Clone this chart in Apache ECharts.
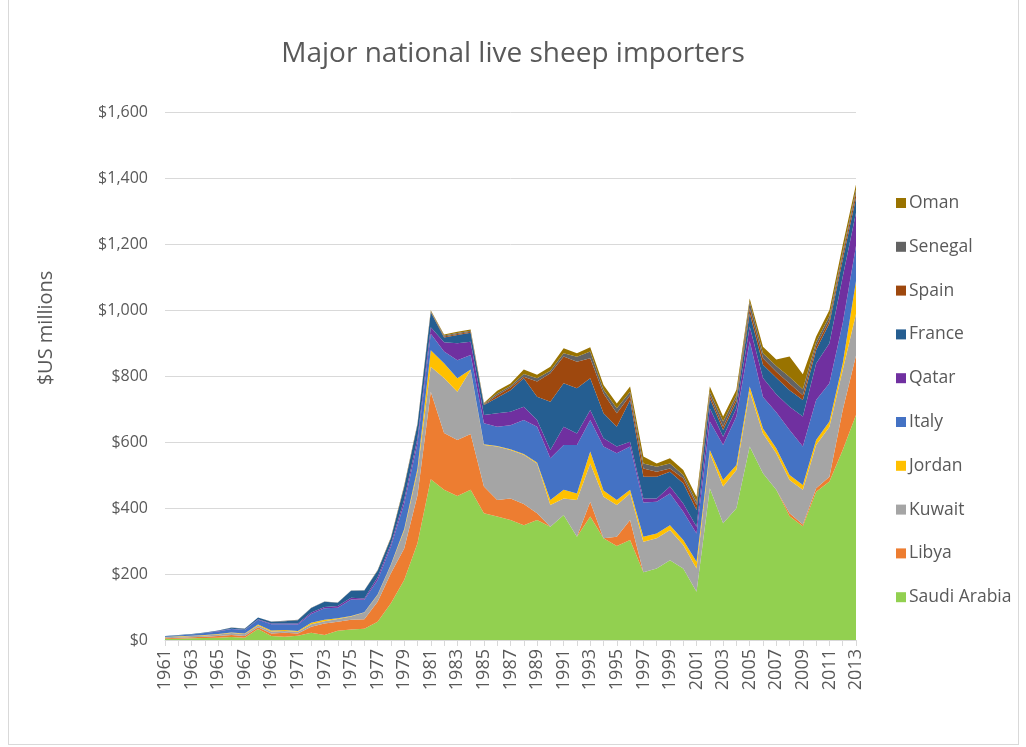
<!DOCTYPE html>
<html>
<head>
<meta charset="utf-8">
<script src="https://cdn.jsdelivr.net/npm/echarts@6/dist/echarts.min.js"></script>
<style>
  html, body { margin: 0; padding: 0; background: #ffffff; }
  #frame { position: absolute; left: 8px; top: 0; width: 1011px; height: 745px; border: 1px solid #d9d9d9; border-top: none; box-sizing: border-box; }
  #chart { position: absolute; left: 0; top: 0; width: 1026px; height: 747px; }
</style>
</head>
<body>
<div id="frame"></div>
<div id="chart"></div>
<script>
// Years on the category axis
const years = [];
for (let y = 1961; y <= 2013; y++) years.push(String(y));

// Live sheep imports by country, $US millions (stacked bottom to top)
const saudiArabia = [3,4,5,6,7,9,7,33,12,10,13,22,15,28,32,34,55,111,182,293,487,455,436,455,384,374,364,348,364,343,379,313,374,308,285,303,205,217,242,217,146,460,354,399,586,505,455,375,345,449,480,576,682];
const libya       = [2,3,3,4,5,6,5,6,8,12,7,18,35,27,29,29,61,91,95,146,265,172,170,169,81,50,65,64,20,0,0,0,45,0,28,61,0,0,0,0,0,0,0,0,0,0,0,9,5,11,15,121,180];
const kuwait      = [3,3,4,4,5,6,6,5,6,5,5,8,7,9,10,20,20,25,55,71,76,167,146,194,126,162,147,149,151,66,50,111,116,126,96,80,93,91,91,71,71,106,111,116,167,121,111,101,105,131,151,121,126];
const jordan      = [1,1,1,1,1,2,2,3,3,3,2,4,4,2,2,1,2,2,4,10,50,45,41,2,2,2,2,3,3,15,26,20,36,19,15,11,15,15,15,15,20,10,20,15,15,15,15,15,15,15,16,20,100];
const italy       = [2,3,4,6,8,10,10,14,19,18,20,27,35,32,50,38,44,54,78,76,50,35,55,44,64,58,73,103,108,127,136,147,96,133,142,131,104,96,96,86,86,86,106,147,137,95,109,136,116,121,116,122,107];
const qatar       = [0,0,0,0,1,1,1,2,2,2,3,4,4,5,5,4,8,8,12,15,20,28,51,40,25,41,41,40,21,25,55,35,30,25,20,15,12,10,21,25,20,40,25,25,45,58,55,71,91,111,121,141,100];
const france      = [1,1,1,2,2,3,3,5,5,7,10,14,16,10,21,24,20,17,38,41,45,15,25,27,30,47,65,86,70,146,132,137,96,76,60,126,66,66,45,61,51,30,20,20,40,40,50,50,50,41,61,51,45];
const spain       = [0,0,0,0,0,0,0,0,0,0,0,0,0,0,0,0,0,1,1,1,2,3,3,3,2,8,8,5,46,86,81,80,61,60,41,15,25,15,10,15,15,10,10,10,15,20,18,20,15,12,10,15,15];
const senegal     = [0,0,0,0,0,1,1,0,1,1,1,1,1,1,1,1,1,1,2,2,2,3,3,3,2,5,5,8,10,8,10,15,20,11,15,10,15,15,15,10,10,10,16,10,20,15,17,20,18,12,12,10,10];
const oman        = [0,0,0,0,0,0,0,0,0,0,0,0,0,0,0,0,1,1,2,2,2,3,4,4,2,8,7,14,11,12,15,11,13,15,15,16,21,10,16,15,15,16,15,16,10,20,20,62,45,17,18,20,15];

const countries = [
  { name: 'Saudi Arabia', data: saudiArabia, color: '#92D050' },
  { name: 'Libya',        data: libya,       color: '#ED7D31' },
  { name: 'Kuwait',       data: kuwait,      color: '#A5A5A5' },
  { name: 'Jordan',       data: jordan,      color: '#FFC000' },
  { name: 'Italy',        data: italy,       color: '#4472C4' },
  { name: 'Qatar',        data: qatar,       color: '#7030A0' },
  { name: 'France',       data: france,      color: '#255E91' },
  { name: 'Spain',        data: spain,       color: '#9E480E' },
  { name: 'Senegal',      data: senegal,     color: '#636363' },
  { name: 'Oman',         data: oman,        color: '#997300' }
];

const textColor = '#595959';
const font = '"Open Sans", "Noto Sans", sans-serif';

function money(v) {
  const s = String(Math.round(v));
  return '$' + s.replace(/\B(?=(\d{3})+(?!\d))/g, ',');
}

const chart = echarts.init(document.getElementById('chart'), null, { renderer: 'canvas' });

chart.setOption({
  animation: false,
  backgroundColor: 'transparent',
  title: {
    text: 'Major national live sheep importers',
    left: 'center',
    top: 35,
    textStyle: { color: textColor, fontFamily: font, fontSize: 28, fontWeight: 'normal' }
  },
  graphic: [{
    type: 'text',
    x: 46,
    y: 328,
    rotation: Math.PI / 2,
    style: {
      text: '$US millions',
      fill: textColor,
      font: '20px ' + font,
      textAlign: 'center',
      textVerticalAlign: 'middle'
    }
  }],
  legend: {
    orient: 'vertical',
    left: 891,
    top: 189,
    icon: 'rect',
    itemWidth: 10,
    itemHeight: 10,
    itemGap: 25.8,
    data: countries.map(c => c.name).reverse(),
    textStyle: { color: textColor, fontFamily: font, fontSize: 17.5, lineHeight: 18, padding: [0, 0, 0, -2] }
  },
  grid: { left: 165, right: 170, top: 112, bottom: 107, containLabel: false },
  xAxis: {
    type: 'category',
    data: years,
    boundaryGap: false,
    axisLine: { lineStyle: { color: '#d9d9d9', width: 1 } },
    axisTick: { show: true, interval: 0, length: 6, lineStyle: { color: '#d9d9d9' } },
    axisLabel: {
      interval: 1,
      rotate: 90,
      margin: 9,
      color: textColor,
      fontFamily: font,
      fontSize: 18
    },
    splitLine: { show: false }
  },
  yAxis: {
    type: 'value',
    min: 0,
    max: 1600,
    interval: 200,
    axisLine: { show: false },
    axisTick: { show: false },
    axisLabel: { color: textColor, fontFamily: font, fontSize: 16, margin: 17, formatter: money },
    splitLine: { lineStyle: { color: '#d9d9d9', width: 1 } }
  },
  series: countries.map(c => ({
    name: c.name,
    type: 'line',
    stack: 'total',
    data: c.data,
    symbol: 'none',
    smooth: false,
    itemStyle: { color: c.color },
    lineStyle: { width: 0, color: c.color },
    areaStyle: { color: c.color, opacity: 1 },
    emphasis: { disabled: true }
  }))
});
</script>
</body>
</html>
